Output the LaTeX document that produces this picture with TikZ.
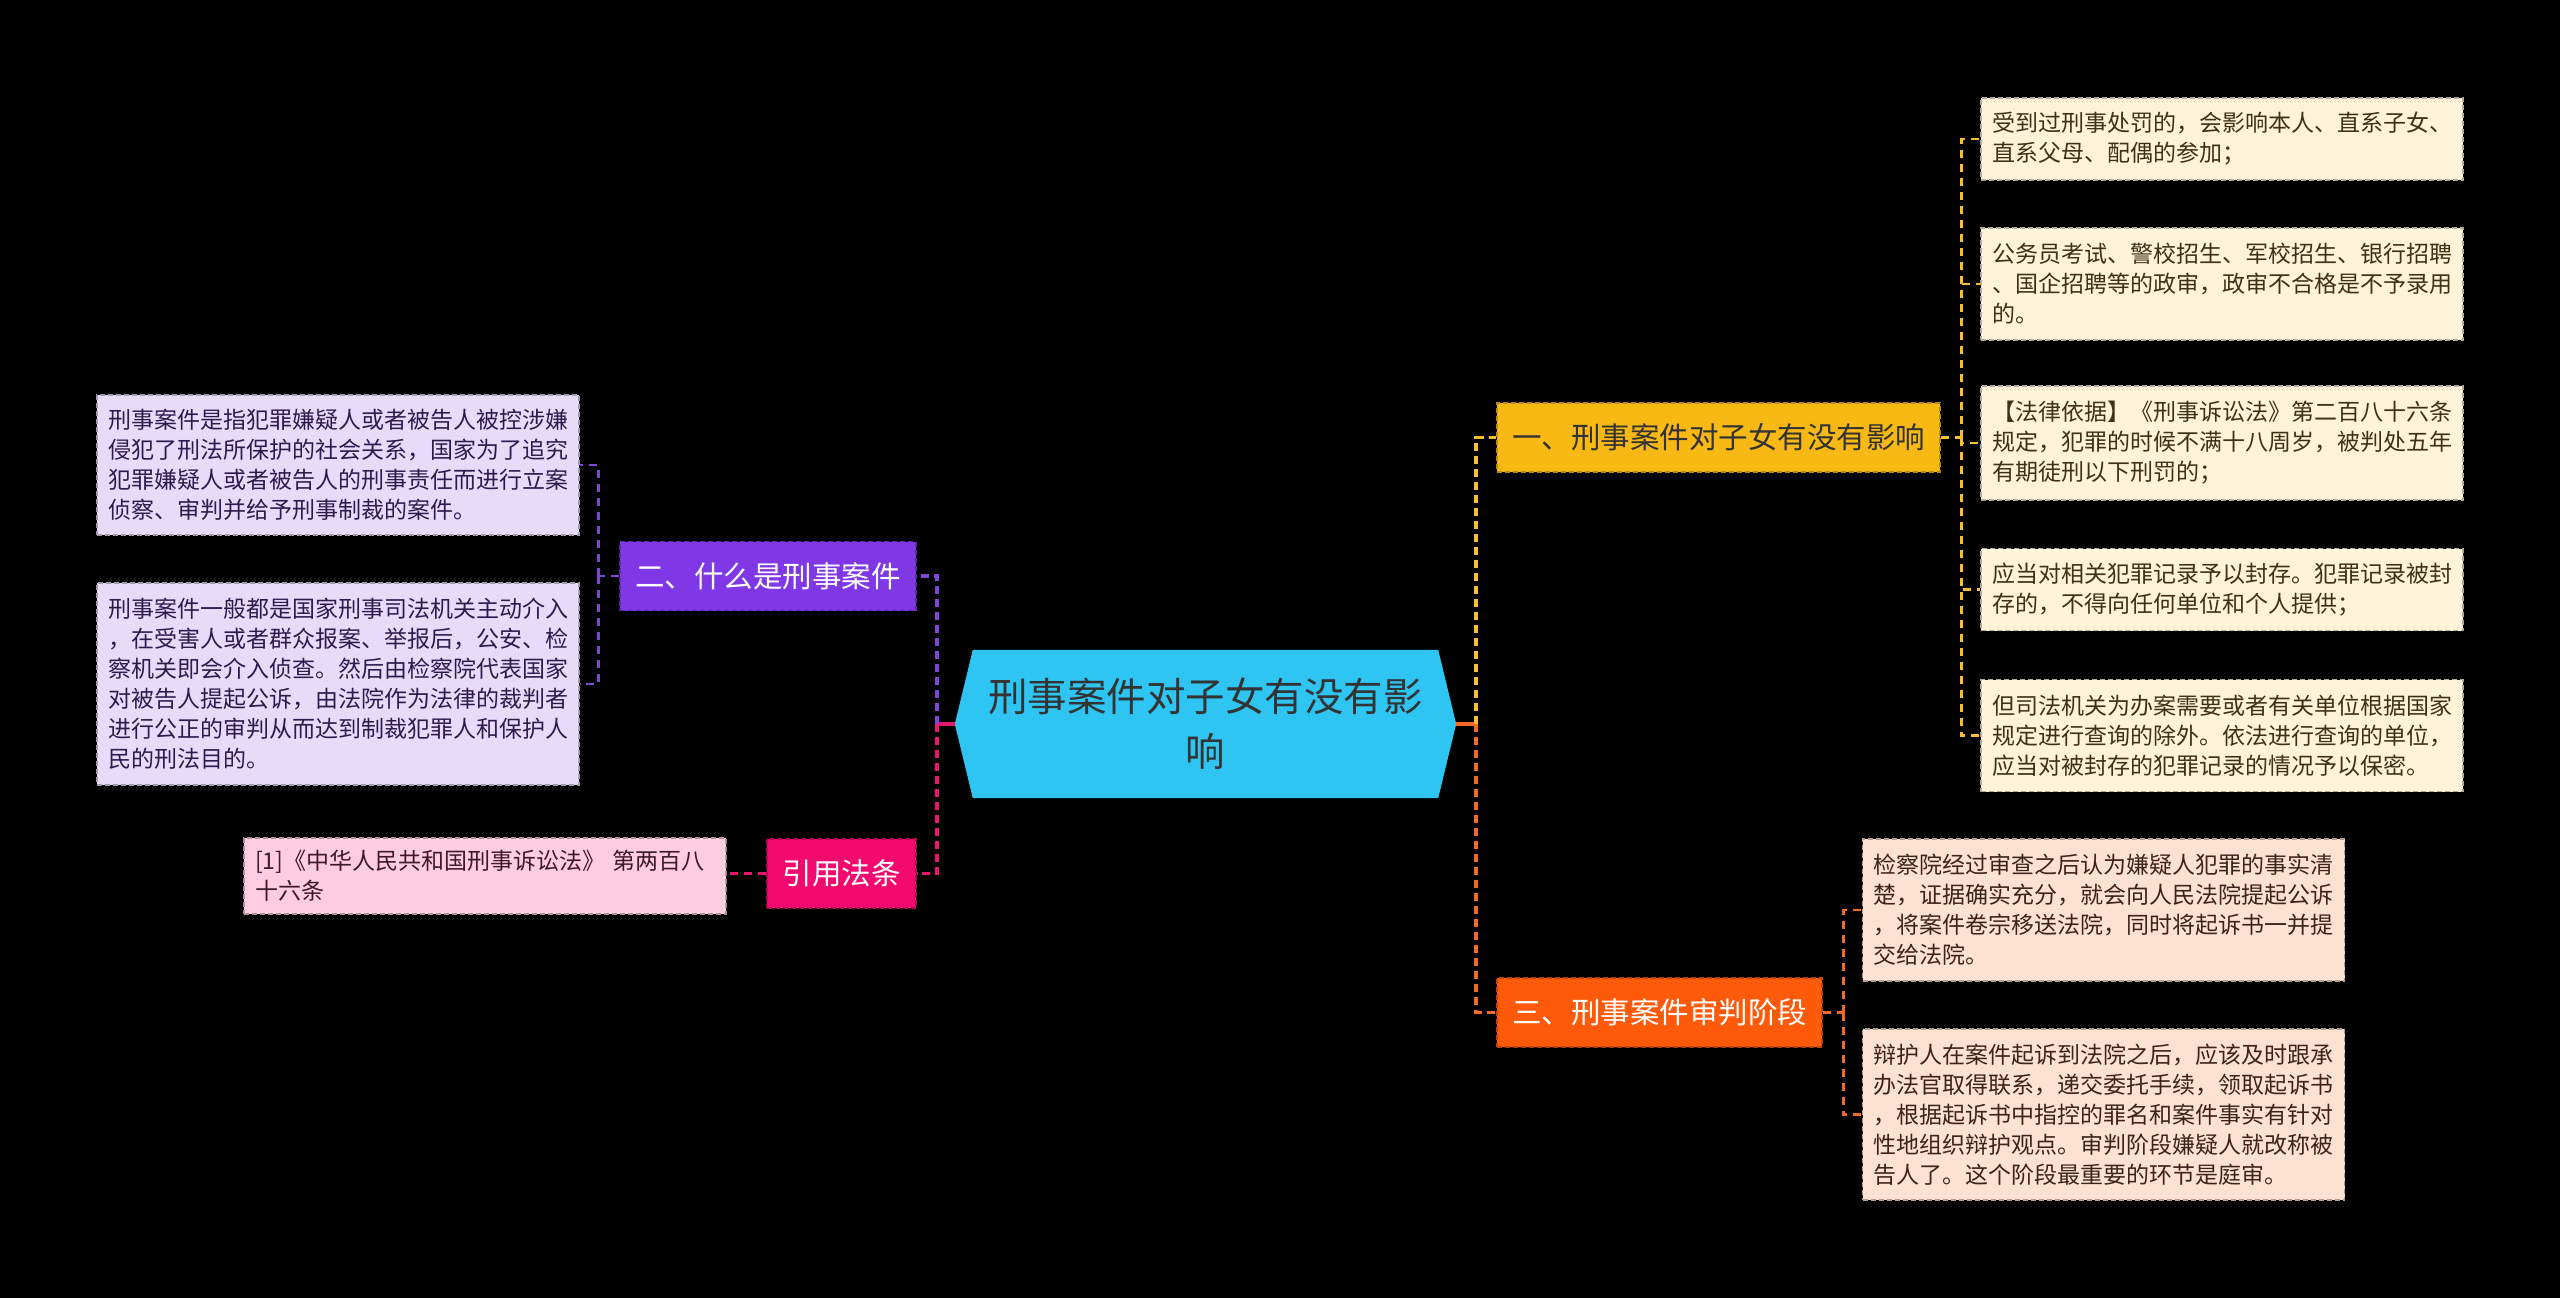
\documentclass[tikz,border=0pt]{standalone}
\usepackage{fontspec}
\setmainfont{Noto Sans CJK SC}
\usetikzlibrary{backgrounds}
\definecolor{bgc}{HTML}{000000}
\definecolor{rootc}{HTML}{2EC5F3}
\definecolor{roottxt}{HTML}{333333}
\definecolor{brY}{HTML}{F9B914}
\definecolor{brO}{HTML}{FF5A0A}
\definecolor{brP}{HTML}{8038E6}
\definecolor{brK}{HTML}{F20A6E}
\definecolor{lfY}{HTML}{FFF3D9}
\definecolor{lfO}{HTML}{FDE2D2}
\definecolor{lfP}{HTML}{E6DCFA}
\definecolor{lfK}{HTML}{FFCCE0}
\definecolor{txY}{HTML}{3C3214}
\definecolor{txO}{HTML}{3C2418}
\definecolor{txP}{HTML}{2D1B4E}
\definecolor{txK}{HTML}{3C1A28}
\definecolor{lnY}{HTML}{F8C030}
\definecolor{lnO}{HTML}{F26A25}
\definecolor{lnP}{HTML}{7D46D8}
\definecolor{lnK}{HTML}{E6186E}
\tikzset{
  leafbase/.style={rectangle, inner xsep=11pt, inner ysep=0pt, text width=460pt, align=left,
    font=\fontsize{23}{30}\selectfont, line width=1.5pt, dash pattern=on 5pt off 3pt},
  leafY/.style={leafbase, fill=lfY, draw=lfY!70!black, text=txY},
  leafO/.style={leafbase, fill=lfO, draw=lfO!70!black, text=txO},
  leafP/.style={leafbase, fill=lfP, draw=lfP!70!black, text=txP},
  leafK/.style={leafbase, fill=lfK, draw=lfK!70!black, text=txK},
  branch/.style={rectangle, inner sep=0pt, minimum height=69pt,
    font=\fontsize{29.5}{35}\selectfont, line width=1.5pt, dash pattern=on 5pt off 3pt},
  rootconn/.style={line width=3.5pt, dash pattern=on 8pt off 5pt},
  leafconn/.style={line width=2.5pt, dash pattern=on 8pt off 6pt},
  stub/.style={line width=3.5pt},
}
\begin{document}
\begin{tikzpicture}[x=1pt,y=-1pt]
\begin{scope}[on background layer]
  \fill[bgc] (0,0) rectangle (2560,1298);
\end{scope}
\useasboundingbox (0,0) rectangle (2560,1298);

% root
\node[rectangle, inner sep=0pt, minimum width=501pt, minimum height=148pt, text width=460pt, align=center,
  font=\fontsize{39.5}{55}\selectfont, text=roottxt] (root) at (1205.5,724) {刑事案件对子女有没有影\\响};
\begin{scope}[on background layer]
  \fill[rootc] (root.west) -- ([xshift=18pt]root.north west) -- ([xshift=-18pt]root.north east)
    -- (root.east) -- ([xshift=-18pt]root.south east) -- ([xshift=18pt]root.south west) -- cycle;
\end{scope}

% branches
\node[branch, minimum width=443pt, fill=brY, draw=brY!75!black, text=roottxt] (b1) at (1718.5,437.5) {一、刑事案件对子女有没有影响};
\node[branch, minimum width=296pt, fill=brP, draw=brP!75!black, text=white] (b2) at (768,576) {二、什么是刑事案件};
\node[branch, minimum width=325pt, fill=brO, draw=brO!75!black, text=white] (b3) at (1659.5,1012.5) {三、刑事案件审判阶段};
\node[branch, minimum width=149pt, fill=brK, draw=brK!75!black, text=white] (b4) at (841.5,873.5) {引用法条};

% purple leaves
\node[leafP, minimum height=140pt] (p1) at (338,465) {刑事案件是指犯罪嫌疑人或者被告人被控涉嫌\\侵犯了刑法所保护的社会关系，国家为了追究\\犯罪嫌疑人或者被告人的刑事责任而进行立案\\侦察、审判并给予刑事制裁的案件。};
\node[leafP, minimum height=202pt] (p2) at (338,684) {刑事案件一般都是国家刑事司法机关主动介入\\，在受害人或者群众报案、举报后，公安、检\\察机关即会介入侦查。然后由检察院代表国家\\对被告人提起公诉，由法院作为法律的裁判者\\进行公正的审判从而达到制裁犯罪人和保护人\\民的刑法目的。};

% pink leaf
\node[leafK, minimum height=76pt] (k1) at (485,876) {[1]《中华人民共和国刑事诉讼法》 第两百八\\十六条};

% yellow leaves
\node[leafY, minimum height=82pt] (y1) at (2222,139) {受到过刑事处罚的，会影响本人、直系子女、\\直系父母、配偶的参加；};
\node[leafY, minimum height=112pt] (y2) at (2222,284) {公务员考试、警校招生、军校招生、银行招聘\\、国企招聘等的政审，政审不合格是不予录用\\的。};
\node[leafY, minimum height=114pt] (y3) at (2222,443) {【法律依据】《刑事诉讼法》第二百八十六条\\规定，犯罪的时候不满十八周岁，被判处五年\\有期徒刑以下刑罚的；};
\node[leafY, minimum height=82pt] (y4) at (2222,589.5) {应当对相关犯罪记录予以封存。犯罪记录被封\\存的，不得向任何单位和个人提供；};
\node[leafY, minimum height=112pt] (y5) at (2222,735.5) {但司法机关为办案需要或者有关单位根据国家\\规定进行查询的除外。依法进行查询的单位，\\应当对被封存的犯罪记录的情况予以保密。};

% orange leaves
\node[leafO, minimum height=142pt] (o1) at (2103.5,910) {检察院经过审查之后认为嫌疑人犯罪的事实清\\楚，证据确实充分，就会向人民法院提起公诉\\，将案件卷宗移送法院，同时将起诉书一并提\\交给法院。};
\node[leafO, minimum height=171pt] (o2) at (2103.5,1114.5) {辩护人在案件起诉到法院之后，应该及时跟承\\办法官取得联系，递交委托手续，领取起诉书\\，根据起诉书中指控的罪名和案件事实有针对\\性地组织辩护观点。审判阶段嫌疑人就改称被\\告人了。这个阶段最重要的环节是庭审。};

% root connectors
\coordinate (jL) at ([xshift=-18pt]root.west);
\coordinate (jR) at ([xshift=20pt]root.east);
\draw[stub, lnK] (root.west) -- (jL);
\draw[rootconn, lnP] (jL) |- (b2.east);
\draw[rootconn, lnK] (jL) |- (b4.east);
\draw[stub, lnO] (root.east) -- (jR);
\draw[rootconn, lnY] (jR) |- (b1.west);
\draw[rootconn, lnO] (jR) |- (b3.west);

% purple branch connectors
\coordinate (jP) at ([xshift=-21pt]b2.west);
\draw[leafconn, lnP] (b2.west) -- (jP);
\draw[leafconn, lnP] (jP) |- (p1.east);
\draw[leafconn, lnP] (jP) |- (p2.east);

% pink branch connector
\draw[leafconn, lnK] (b4.west) -- (b4.west -| k1.east);

% yellow branch connectors
\coordinate (jY) at ([xshift=20.5pt]b1.east);
\draw[leafconn, lnY] (b1.east) -- (jY);
\foreach \n in {y1,y2,y3,y4,y5} {
  \draw[leafconn, lnY] (jY) |- (\n.west);
}

% orange branch connectors
\coordinate (jO) at ([xshift=20.5pt]b3.east);
\draw[leafconn, lnO] (b3.east) -- (jO);
\draw[leafconn, lnO] (jO) |- (o1.west);
\draw[leafconn, lnO] (jO) |- (o2.west);
\end{tikzpicture}
\end{document}
